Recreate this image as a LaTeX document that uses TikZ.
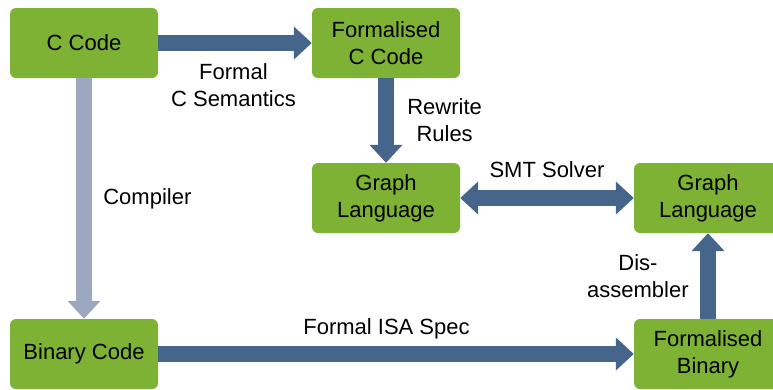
\documentclass[tikz,border=0pt]{standalone}
\usepackage{fontspec}
\setmainfont{Liberation Sans}
\usetikzlibrary{arrows.meta,positioning}
\definecolor{boxgreen}{RGB}{125,178,52}
\definecolor{flowblue}{RGB}{69,101,139}
\definecolor{paleblue}{RGB}{155,168,191}
\tikzset{
  box/.style={fill=boxgreen, rounded corners=6pt, minimum width=148, minimum height=70,
    align=center, font=\fontsize{22}{27}\selectfont, inner sep=0pt},
  flow/.style={draw=flowblue, line width=16, -{Triangle[width=32,length=18]}},
  lbl/.style={align=center, font=\fontsize{22}{27}\selectfont}
}
\begin{document}
\begin{tikzpicture}[x=1pt,y=-1pt]
\useasboundingbox (0,0) rectangle (773,389);
\clip (0,0) rectangle (773,389);
% boxes
\node[box] (ccode) at (84,43) {C Code};
\node[box] (fccode) at (386,43) {Formalised\\C Code};
\node[box] (graphl) at (386,198) {Graph\\Language};
\node[box] (graphr) at (708,198) {Graph\\Language};
\node[box] (bincode) at (84,354) {Binary Code};
\node[box] (fbinary) at (708,354) {Formalised\\Binary};
% arrows
\draw[flow] (ccode.east) -- (fccode.west)
  node[lbl, pos=0.49, below=9pt] {Formal\\C Semantics};
\draw[flow] (fccode.south) -- (graphl.north)
  node[lbl, midway, right=10pt] {Rewrite\\Rules};
\draw[flow, {Triangle[width=32,length=18]}-{Triangle[width=32,length=18]}] (graphl.east) -- (graphr.west)
  node[lbl, midway, above=9pt] {SMT Solver};
\draw[flow, draw=paleblue] (ccode.south) -- (bincode.north)
  node[lbl, midway, right=8pt] {Compiler};
\draw[flow] (bincode.east) -- (fbinary.west)
  node[lbl, pos=0.48, above=4pt] {Formal ISA Spec};
\draw[flow] (fbinary.north) -- (graphr.south)
  node[lbl, midway, left=8pt] {Dis-\\assembler};
\end{tikzpicture}
\end{document}
